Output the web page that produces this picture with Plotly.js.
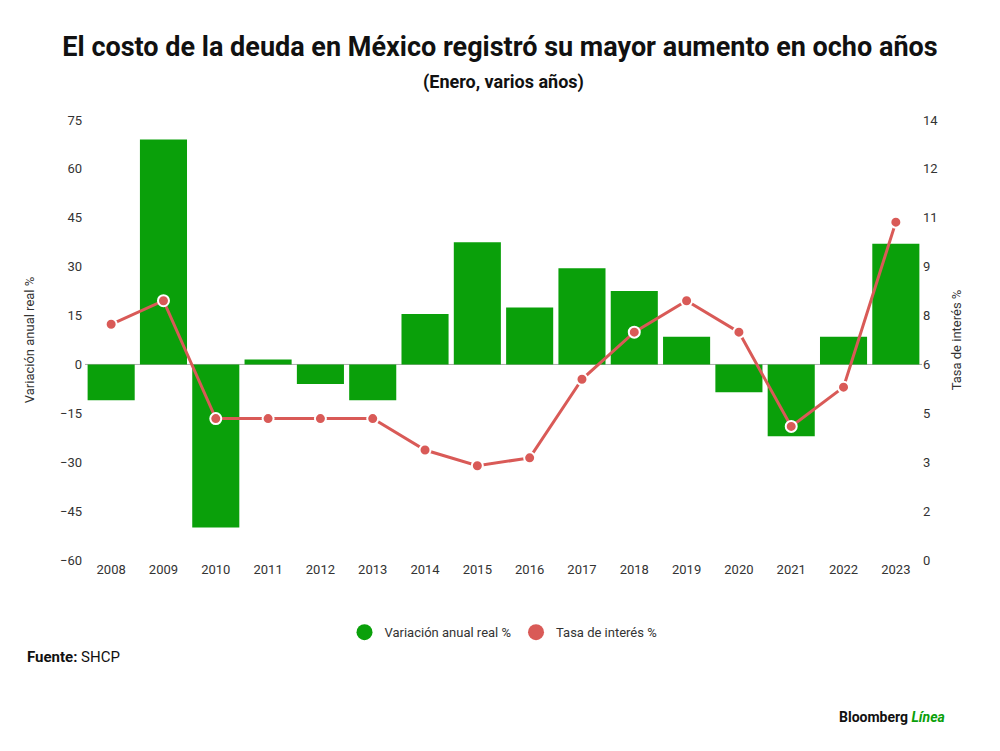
<!DOCTYPE html>
<html>
<head>
<meta charset="utf-8">
<script src="https://cdn.plot.ly/plotly-3.0.1.min.js"></script>
<style>body{margin:0;background:#fff}#chart{width:1000px;height:751px}</style>
</head>
<body>
<div id="chart"></div>
<script>
// Datos
const years = ['2008','2009','2010','2011','2012','2013','2014','2015','2016','2017','2018','2019','2020','2021','2022','2023'];
const variacion = [-11, 69, -50, 1.5, -6, -11, 15.5, 37.5, 17.5, 29.5, 22.5, 8.5, -8.5, -22, 8.5, 37];
const tasa = [7.5, 8.25, 4.5, 4.5, 4.5, 4.5, 3.5, 3.0, 3.25, 5.75, 7.25, 8.25, 7.25, 4.25, 5.5, 10.75];
const leftTicks = [75, 60, 45, 30, 15, 0, -15, -30, -45, -60];
const rightTicks = [14, 12, 11, 9, 8, 6, 5, 3, 2, 0];

const font = 'Roboto, Inter, sans-serif';
const green = '#0aa00a';
const red = '#d95a57';

const traces = [
  {x: years, y: variacion, type: 'bar', name: 'Variación anual real %',
   marker: {color: green}, yaxis: 'y', showlegend: false},
  {x: years, y: tasa, type: 'scatter', mode: 'lines+markers', name: 'Tasa de interés %',
   line: {color: red, width: 3}, marker: {color: red, size: 11, line: {color: '#fff', width: 2}},
   yaxis: 'y2', showlegend: false},
  // entradas de leyenda con círculos
  {x: [null], y: [null], type: 'scatter', mode: 'markers', name: 'Variación anual real %',
   marker: {color: green, size: 18}},
  {x: [null], y: [null], type: 'scatter', mode: 'markers', name: 'Tasa de interés %',
   marker: {color: red, size: 18}}
];

const layout = {
  width: 1000, height: 751,
  margin: {t: 120, b: 191, l: 85, r: 78},
  paper_bgcolor: '#fff', plot_bgcolor: '#fff',
  font: {family: font, color: '#333', size: 13},
  title: {text: '<b>El costo de la deuda en México registró su mayor aumento en ocho años</b>',
          x: 0.5, y: 0.95, font: {size: 27, color: '#111'}},
  bargap: 0.1,
  xaxis: {type: 'category', range: [-0.5, 15.5], showgrid: false, showline: false, ticks: '', automargin: false,
          tickfont: {size: 13, color: '#333'}},
  yaxis: {range: [-60, 75], tickvals: leftTicks, showgrid: false, zeroline: false, automargin: false,
          tickfont: {size: 13, color: '#333'}, ticklabelstandoff: 2,
          title: {text: 'Variación anual real %', font: {size: 13, color: '#333'}, standoff: 22}},
  yaxis2: {range: [0, 14], overlaying: 'y', side: 'right', showgrid: false, zeroline: false, automargin: false,
           tickvals: leftTicks.map(v => (v + 60) * 14 / 135), ticktext: rightTicks.map(String),
           tickfont: {size: 13, color: '#333'},
           title: {text: 'Tasa de interés %', font: {size: 13, color: '#333'}, standoff: 14}},
  shapes: [{type: 'line', xref: 'paper', x0: 0, x1: 1, yref: 'y', y0: 0, y1: 0,
            line: {color: '#aaa', width: 1}, layer: 'below'}],
  showlegend: true,
  legend: {orientation: 'h', x: 0.5, xanchor: 'center', y: -0.13, yanchor: 'top',
           font: {size: 13, color: '#333'}},
  annotations: [
    {text: '<b>(Enero, varios años)</b>', xref: 'paper', yref: 'paper', x: 0.5, y: 1.115,
     xanchor: 'center', showarrow: false, font: {size: 18, color: '#111'}},
    {text: '<b>Fuente:</b> SHCP', xref: 'paper', yref: 'paper', x: -0.072, y: -0.195,
     xanchor: 'left', yanchor: 'top', showarrow: false, font: {size: 15, color: '#111'}},
    {text: '<b>Bloomberg</b> <span style="color:#0aa00a"><b><i>Línea</i></b></span>', xref: 'paper', yref: 'paper',
     x: 1.03, y: -0.335, xanchor: 'right', yanchor: 'top', showarrow: false, font: {size: 14, color: '#111'}}
  ]
};

Plotly.newPlot('chart', traces, layout, {displayModeBar: false});
</script>
</body>
</html>
